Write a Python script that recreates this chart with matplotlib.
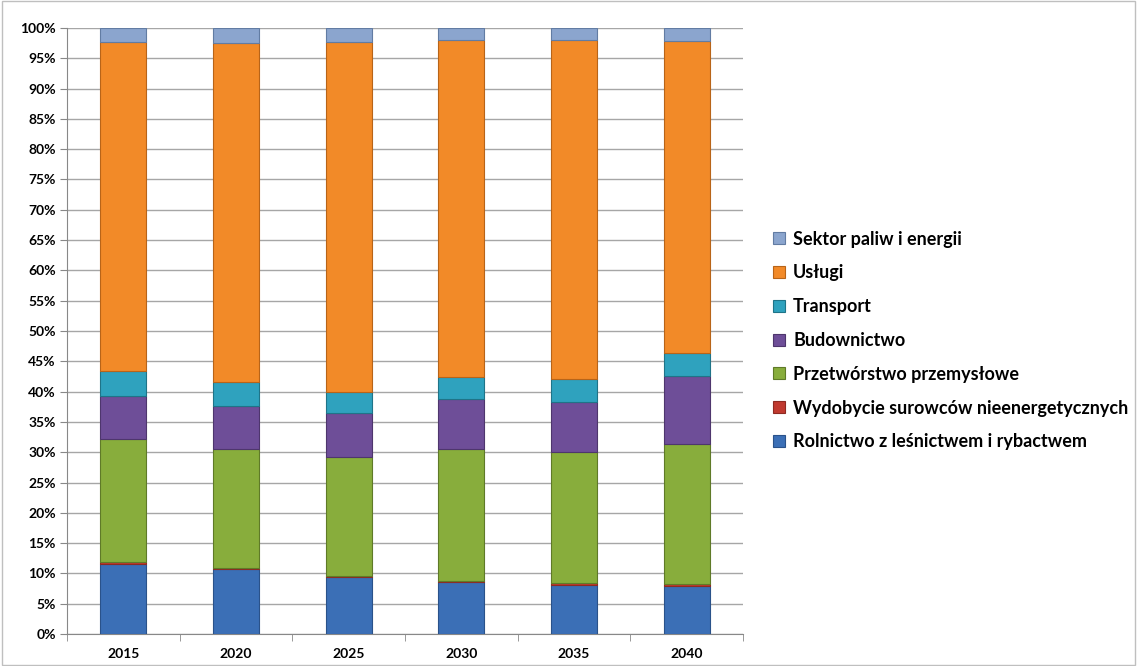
import matplotlib
matplotlib.use("Agg")
import matplotlib.pyplot as plt
import numpy as np
from matplotlib.ticker import FuncFormatter, MultipleLocator

plt.rcParams['font.family'] = ['Lato', 'DejaVu Sans']

years = ["2015", "2020", "2025", "2030", "2035", "2040"]
series = [
    "Rolnictwo z leśnictwem i rybactwem",
    "Wydobycie surowców nieenergetycznych",
    "Przetwórstwo przemysłowe",
    "Budownictwo",
    "Transport",
    "Usługi",
    "Sektor paliw i energii",
]
rolnictwo = [11.6, 10.7, 9.4, 8.6, 8.1, 8.0]
wydobycie = [0.2, 0.2, 0.2, 0.2, 0.3, 0.3]
przetworstwo = [20.3, 19.7, 19.6, 21.8, 21.6, 23.1]
budownictwo = [7.2, 7.1, 7.2, 8.1, 8.3, 11.2]
transport = [4.1, 3.9, 3.6, 3.7, 3.7, 3.8]
uslugi = [54.3, 55.9, 57.7, 55.7, 56.0, 51.5]
sektor = [2.3, 2.5, 2.3, 1.9, 2.0, 2.1]

values = [rolnictwo, wydobycie, przetworstwo, budownictwo, transport, uslugi, sektor]
colors = ["#3B6FB6", "#C0392F", "#88AD3C", "#6E4E98", "#2FA2BE", "#F28A28", "#8BA5CE"]
edges = ["#2A528A", "#8E2A22", "#5F7A28", "#4E366D", "#1F7488", "#B86418", "#627CA3"]

fig = plt.figure(figsize=(11.37, 6.66), dpi=100)
ax = fig.add_axes([67/1137, 32/666, (743-67)/1137, (634-28)/666])

x = np.arange(len(years))
bottom = np.zeros(len(years))
handles = []
for name, vals, c, e in zip(series, values, colors, edges):
    v = np.array(vals, dtype=float)
    b = ax.bar(x, v, bottom=bottom, width=0.41, color=c, edgecolor=e,
               linewidth=0.8, label=name, zorder=3)
    handles.append(b)
    bottom += v

ax.set_xlim(-0.5, len(years) - 0.5)
ax.set_ylim(0, 100)
ax.yaxis.set_major_locator(MultipleLocator(5))
ax.yaxis.set_major_formatter(FuncFormatter(lambda v, p: f"{int(round(v))}%"))
ax.grid(axis="y", color="#A6A6A6", linewidth=1.0, zorder=0)
ax.set_axisbelow(True)

ax.set_xticks(x)
ax.set_xticklabels(years, fontsize=10, fontweight="bold")
ax.set_xticks(np.arange(-0.5, len(years)), minor=True)
ax.tick_params(axis="x", which="major", length=0, pad=10)
ax.tick_params(axis="x", which="minor", length=5, color="#888888", direction="out")
ax.tick_params(axis="y", length=5, color="#888888", labelsize=10, pad=3)
for lbl in ax.get_yticklabels():
    lbl.set_fontweight("bold")

for s in ["top", "right"]:
    ax.spines[s].set_visible(False)
for s in ["left", "bottom"]:
    ax.spines[s].set_color("#888888")

leg = fig.legend(handles[::-1], series[::-1], loc="center left",
                 bbox_to_anchor=(757/1137, 1 - 340.5/666),
                 frameon=False, prop={"weight": "bold", "size": 13},
                 handlelength=0.65, handleheight=0.65, handletextpad=0.45,
                 labelspacing=0.93)

fig.patches.append(plt.Rectangle((0.002, 0.002), 0.996, 0.996, transform=fig.transFigure,
                                 fill=False, edgecolor="#BFBFBF", linewidth=1))
fig.savefig("out.png", dpi=100)
